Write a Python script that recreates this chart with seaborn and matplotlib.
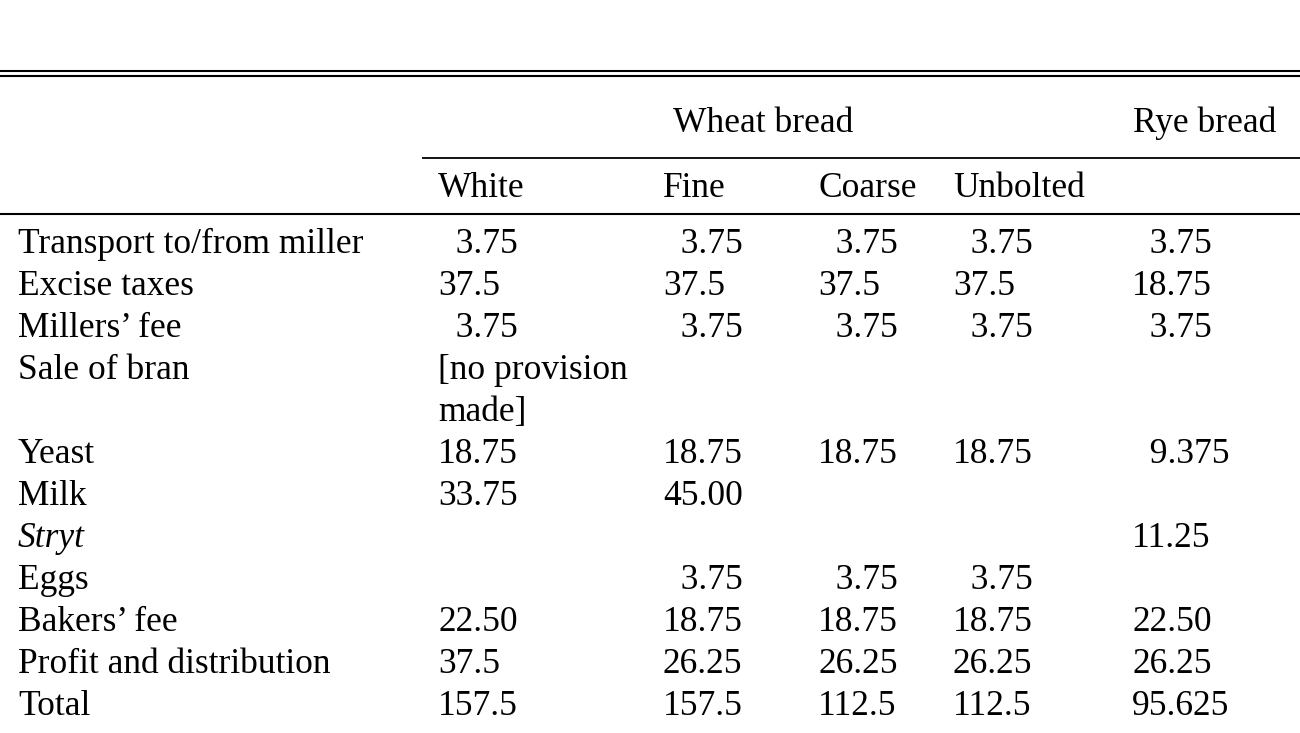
import matplotlib
matplotlib.use("Agg")
import matplotlib.pyplot as plt
import seaborn as sns

# ---------------- data ----------------
row_labels = ["Transport to/from miller", "Excise taxes", "Millers’ fee", "Sale of bran",
              "Yeast", "Milk", "Stryt", "Eggs", "Bakers’ fee",
              "Profit and distribution", "Total"]
italic_rows = ["Stryt"]
group_headers = ["Wheat bread", "Rye bread"]
sub_headers = ["White", "Fine", "Coarse", "Unbolted", ""]
white = ["3.75", "37.5", "3.75", "[no provision\nmade]", "18.75", "33.75", "", "", "22.50", "37.5", "157.5"]
fine = ["3.75", "37.5", "3.75", "", "18.75", "45.00", "", "3.75", "18.75", "26.25", "157.5"]
coarse = ["3.75", "37.5", "3.75", "", "18.75", "", "", "3.75", "18.75", "26.25", "112.5"]
unbolted = ["3.75", "37.5", "3.75", "", "18.75", "", "", "3.75", "18.75", "26.25", "112.5"]
rye = ["3.75", "18.75", "3.75", "", "9.375", "", "11.25", "", "22.50", "26.25", "95.625"]
columns = [white, fine, coarse, unbolted, rye]

# ---------------- layout ----------------
W, H = 1300, 733
col_x = [438, 663, 818, 953, 1132]
label_x = 18
group_x = [673, 1133]
first_baseline = 253
line_step = 42
FS = 25.5
FIG_SP = "\u2007"

sns.set_theme(style="white")
plt.rcParams["font.family"] = ["Liberation Serif", "DejaVu Serif"]
plt.rcParams["mathtext.fontset"] = "stix"

fig = plt.figure(figsize=(W / 100, H / 100), dpi=100)
ax = fig.add_axes([0, 0, 1, 1])
ax.set_xlim(0, W)
ax.set_ylim(H, 0)
ax.axis("off")


def fmt(v):
    if v and v[0].isdigit() and "." in v and len(v.split(".")[0]) == 1:
        return FIG_SP + v
    return v


# rules
rule_kw = dict(color="black", solid_capstyle="butt")
ax.plot([0, W], [71, 71], lw=1.5, **rule_kw)
ax.plot([0, W], [75.5, 75.5], lw=1.5, **rule_kw)
ax.plot([422, W], [158, 158], lw=1.3, **rule_kw)
ax.plot([0, W], [214, 214], lw=1.5, **rule_kw)

# headers
for gx, g in zip(group_x, group_headers):
    ax.text(gx, 132, g, fontsize=FS, va="baseline", ha="left", color="black")
for cx, s in zip(col_x, sub_headers):
    if s:
        ax.text(cx, 197, s, fontsize=FS, va="baseline", ha="left", color="black")

# body
line = 0
for i, lab in enumerate(row_labels):
    y = first_baseline + line * line_step
    ax.text(label_x, y, lab, fontsize=FS, va="baseline", ha="left", color="black",
            style="italic" if lab in italic_rows else "normal")
    nlines = 1
    for cx, col in zip(col_x, columns):
        v = col[i]
        if not v:
            continue
        parts = v.split("\n")
        nlines = max(nlines, len(parts))
        for k, p in enumerate(parts):
            ax.text(cx, y + k * line_step, fmt(p), fontsize=FS, va="baseline",
                    ha="left", color="black")
    line += nlines

fig.savefig("out.png", dpi=100, facecolor="white")
